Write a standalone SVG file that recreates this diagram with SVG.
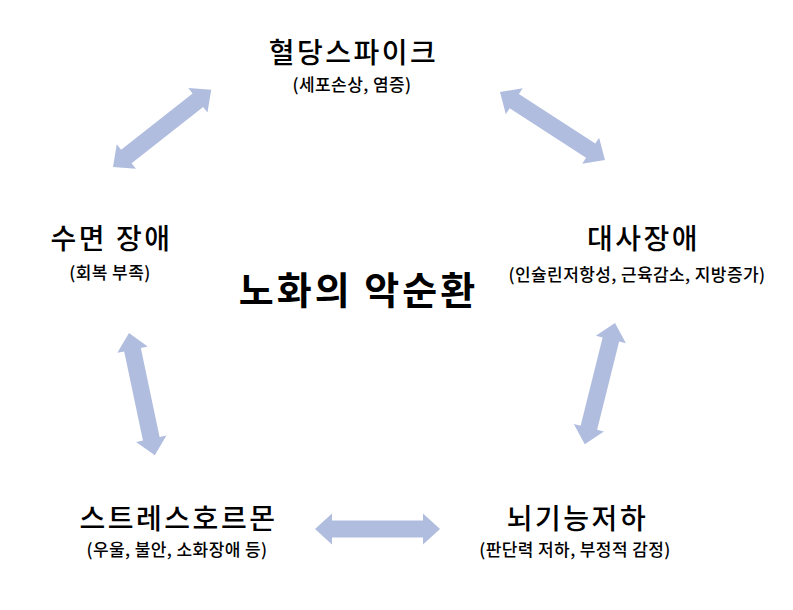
<svg xmlns="http://www.w3.org/2000/svg" xmlns:xlink="http://www.w3.org/1999/xlink" width="793" height="610" viewBox="0 0 793 610">
<style>
text{font-family:"Noto Sans CJK KR","Noto Sans",sans-serif;text-anchor:middle;fill:#000}
.t{font-size:28px;font-weight:500;letter-spacing:2.5px}
.s{font-size:17px;font-weight:500;letter-spacing:0.4px}
.m{font-size:38px;font-weight:700;letter-spacing:3px}
.arr{fill:#B0BDDF}
</style>
<defs>
<path id="dbl" d="M0,0 L17,-15.5 L17,-8.5 L108,-8.5 L108,-15.5 L125,0 L108,15.5 L108,8.5 L17,8.5 L17,15.5 Z"/>
</defs>
<rect width="793" height="610" fill="#fff"/>
<g id="connectors" class="arr">
<use xlink:href="#dbl" transform="translate(113,167) rotate(-38.2)"/>
<use xlink:href="#dbl" transform="translate(500,92) rotate(32.9)"/>
<use xlink:href="#dbl" transform="translate(615,323) rotate(104)"/>
<use xlink:href="#dbl" transform="translate(129,333) rotate(78.1)"/>
<use xlink:href="#dbl" transform="translate(315,529)"/>
</g>
<g id="center"><text class="m" x="358.5" y="304">노화의 악순환</text></g>
<g id="blood"><text class="t" x="353.5" y="63">혈당스파이크</text><text class="s" x="352" y="91">(세포손상, 염증)</text></g>
<g id="sleep"><text class="t" x="111.5" y="249">수면 장애</text><text class="s" x="110" y="279">(회복 부족)</text></g>
<g id="metab"><text class="t" x="643.5" y="249">대사장애</text><text class="s" x="637" y="281">(인슐린저항성, 근육감소, 지방증가)</text></g>
<g id="stress"><text class="t" x="178.5" y="529">스트레스호르몬</text><text class="s" x="177" y="556">(우울, 불안, 소화장애 등)</text></g>
<g id="brain"><text class="t" x="577.5" y="529">뇌기능저하</text><text class="s" x="575" y="556">(판단력 저하, 부정적 감정)</text></g>
</svg>
